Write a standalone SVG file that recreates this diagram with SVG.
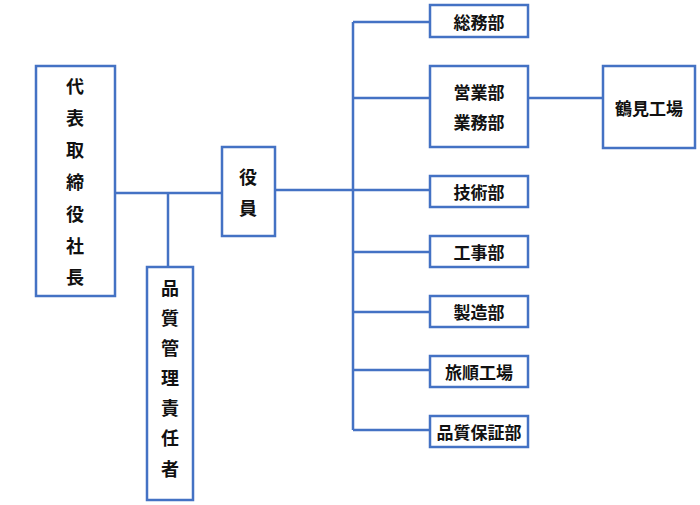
<svg xmlns="http://www.w3.org/2000/svg" width="700" height="505" viewBox="0 0 700 505">
<style>
.box{fill:#fff;stroke:#4472C4;stroke-width:2.5}
.ln{fill:none;stroke:#4472C4;stroke-width:2.5}
text{font-family:"Noto Sans CJK JP","Noto Sans CJK SC",sans-serif;font-size:17px;font-weight:700;fill:#111;text-anchor:middle;dominant-baseline:central}
.v{font-size:18px}
</style>
<rect width="700" height="505" fill="#fff"/>
<g id="connectors">
<path class="ln" d="M115,193 H222"/>
<path class="ln" d="M168,193 V267"/>
<path class="ln" d="M275,190 H353"/>
<path class="ln" d="M353,22 V430"/>
<path class="ln" d="M353,22 H430"/>
<path class="ln" d="M353,98 H430"/>
<path class="ln" d="M353,190 H430"/>
<path class="ln" d="M353,252 H430"/>
<path class="ln" d="M353,312 H430"/>
<path class="ln" d="M353,370 H430"/>
<path class="ln" d="M353,430 H430"/>
<path class="ln" d="M528,98 H603"/>
</g>
<g id="president">
<rect class="box" x="36" y="66" width="79" height="230"/>
<text class="v" x="75" y="85">代</text>
<text class="v" x="75" y="117">表</text>
<text class="v" x="75" y="149">取</text>
<text class="v" x="75" y="181">締</text>
<text class="v" x="75" y="213">役</text>
<text class="v" x="75" y="245">社</text>
<text class="v" x="75" y="276">長</text>
</g>
<g id="officer">
<rect class="box" x="222" y="147" width="53" height="89"/>
<text class="v" x="248" y="176">役</text>
<text class="v" x="248" y="207">員</text>
</g>
<g id="qa-manager">
<rect class="box" x="147" y="267" width="46" height="233"/>
<text class="v" x="170" y="287">品</text>
<text class="v" x="170" y="317">質</text>
<text class="v" x="170" y="347">管</text>
<text class="v" x="170" y="377">理</text>
<text class="v" x="170" y="407">責</text>
<text class="v" x="170" y="437">任</text>
<text class="v" x="170" y="468">者</text>
</g>
<g id="soumu">
<rect class="box" x="430" y="5" width="98" height="32"/>
<text x="479" y="21">総務部</text>
</g>
<g id="eigyo">
<rect class="box" x="430" y="66" width="98" height="81"/>
<text x="479" y="91">営業部</text>
<text x="479" y="121">業務部</text>
</g>
<g id="tsurumi">
<rect class="box" x="603" y="66" width="92" height="82"/>
<text x="649" y="107">鶴見工場</text>
</g>
<g id="gijutsu">
<rect class="box" x="430" y="176" width="98" height="31"/>
<text x="479" y="191">技術部</text>
</g>
<g id="kouji">
<rect class="box" x="430" y="236" width="98" height="31"/>
<text x="479" y="251">工事部</text>
</g>
<g id="seizou">
<rect class="box" x="430" y="296" width="98" height="31"/>
<text x="479" y="311">製造部</text>
</g>
<g id="ryojun">
<rect class="box" x="430" y="356" width="98" height="31"/>
<text x="479" y="371">旅順工場</text>
</g>
<g id="hinshitsu">
<rect class="box" x="430" y="416" width="98" height="31"/>
<text x="479" y="431">品質保証部</text>
</g>
</svg>
